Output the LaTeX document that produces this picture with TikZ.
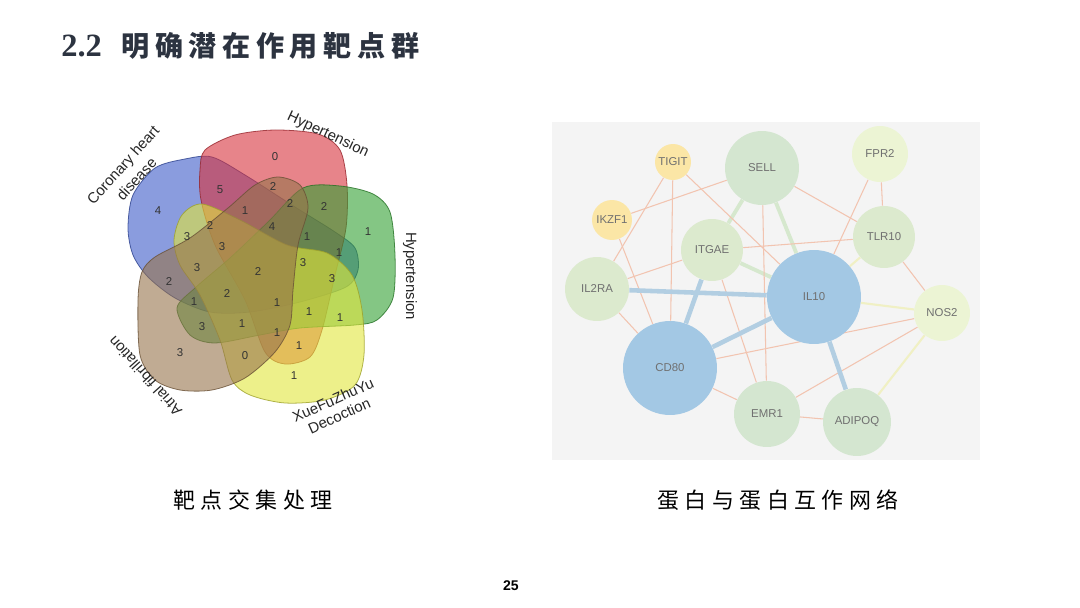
\documentclass[tikz,border=0pt]{standalone}
\usepackage{fontspec}
\setmainfont{Liberation Sans}
\newfontfamily\serifb{Liberation Serif}
\newfontfamily\cjktitel{Noto Sans CJK SC}[LetterSpace=20]
\newfontfamily\cjkcap{Noto Sans CJK SC}[LetterSpace=25]
\usetikzlibrary{positioning}
\definecolor{titel}{RGB}{44,51,64}
\definecolor{vblau}{RGB}{60,90,200}
\definecolor{vrot}{RGB}{215,50,60}
\definecolor{vgruen}{RGB}{50,160,50}
\definecolor{vgelb}{RGB}{225,230,60}
\definecolor{vbraun}{RGB}{150,115,75}
\definecolor{panel}{RGB}{244,244,244}
\definecolor{lachs}{RGB}{242,196,176}
\definecolor{eisblau}{RGB}{178,206,226}
\definecolor{blassgruen}{RGB}{214,232,206}
\definecolor{blassgelb}{RGB}{240,240,196}
\definecolor{pblau}{RGB}{163,200,228}
\definecolor{pgruen}{RGB}{212,230,208}
\definecolor{plind}{RGB}{220,234,206}
\definecolor{phell}{RGB}{236,244,212}
\definecolor{pgelb}{RGB}{251,230,166}
\definecolor{ptext}{RGB}{112,112,112}
\pgfdeclarelayer{hinten}
\pgfdeclarelayer{kanten}
\pgfsetlayers{hinten,kanten,main}
\tikzset{
  % Venn-Mengen
  menge/.style={fill=#1, draw=#1!70!black, fill opacity=0.6, draw opacity=0.8,
    line width=0.45pt},
  zahl/.style={font=\fontsize{6.5}{7}\selectfont, text=black!80},
  mlabel/.style={font=\fontsize{8.5}{10}\selectfont, text=black!85, inner sep=1pt},
  % Netzwerk
  prot/.style={circle, inner sep=0pt, minimum size=#1*0.04cm,
    font=\fontsize{6.5}{7}\selectfont, text=ptext},
  duenn/.style={draw=lachs, line width=0.6pt},
  stark/.style={draw=eisblau, line width=2.6pt},
  blass/.style={draw=blassgruen, line width=2.2pt},
  gelblich/.style={draw=blassgelb, line width=1.2pt},
  % Beschriftung
  caption/.style={font=\cjkcap\fontsize{12.5}{14}\selectfont, text=black},
}

\begin{document}
\begin{tikzpicture}[x=0.02cm, y=-0.02cm]
  \useasboundingbox (0,0) rectangle (1080,608);
  % Titel
  \node[anchor=west, inner sep=0pt, text=titel] (titel) at (61,46)
    {{\serifb\bfseries\fontsize{18.5}{19}\selectfont 2.2}\hspace{11pt}{\cjktitel\bfseries\fontsize{16}{18}\selectfont 明确潜在作用靶点群}};

  % Venn-Diagramm, fünf Mengen
  \path[menge=vblau] plot[smooth cycle] coordinates {(128,228) (133,195) (155,168) (185,159)
    (212,157) (245,175) (295,207) (335,232) (355,248) (358,270) (346,287) (300,302)
    (250,312) (210,312) (175,298) (148,277) (133,255)};
  \path[menge=vrot] plot[smooth cycle] coordinates {(205,150) (235,135) (275,130) (318,134)
    (340,150) (347,185) (346,228) (335,275) (322,330) (310,357) (285,364) (265,352)
    (245,300) (215,245) (201,200) (200,170)};
  \path[menge=vgruen] plot[smooth cycle] coordinates {(303,188) (340,186) (373,194) (390,212)
    (395,255) (393,298) (377,320) (355,325) (300,328) (260,335) (215,343) (190,335)
    (177,308) (195,288) (230,258) (268,222)};
  \path[menge=vgelb] plot[smooth cycle] coordinates {(174,240) (182,215) (202,204) (240,220)
    (287,245) (327,253) (352,275) (362,310) (364,355) (355,385) (325,400) (285,403)
    (250,395) (232,380) (220,340) (200,295) (180,265)};
  \path[menge=vbraun] plot[smooth cycle] coordinates {(138,300) (142,272) (155,257) (190,238)
    (228,208) (255,185) (278,177) (300,185) (308,208) (298,245) (293,290) (290,325)
    (275,352) (245,378) (212,390) (180,390) (155,380) (140,355)};

  % Schnittmengen
  \foreach \x/\y/\n [count=\i] in {275/157/0, 220/190/5, 158/211/4, 273/187/2, 245/211/1,
      290/204/2, 324/207/2, 368/232/1, 210/226/2, 187/237/3, 222/247/3, 272/227/4,
      307/237/1, 339/253/1, 303/263/3, 332/279/3, 169/282/2, 197/268/3, 258/272/2,
      227/294/2, 194/302/1, 277/303/1, 309/312/1, 340/318/1, 202/327/3, 242/324/1,
      277/333/1, 180/353/3, 245/356/0, 299/346/1, 294/376/1}
    \node[zahl] (z\i) at (\x,\y) {\n};

  % Mengennamen
  \node[mlabel, rotate=48] (khk) at (124,166) {Coronary heart};
  \node[mlabel, rotate=48, below=1pt of khk.south, anchor=north] (khk2) {disease};
  \node[mlabel, rotate=-25] (hyp1) at (328,135) {Hypertension};
  \node[mlabel, rotate=-90] (hyp2) at (410,276) {Hypertension};
  \node[mlabel, rotate=24] (xfzy) at (333,400) {XueFuZhuYu};
  \node[mlabel, rotate=24, below=1pt of xfzy.south, anchor=north] (xfzy2) {Decoction};
  \node[mlabel, rotate=132] (vhf) at (145,376) {Atrial fibrillation};

  % PPI-Netzwerk
  \begin{pgfonlayer}{hinten}
    \fill[panel] (552,122) rectangle (980,460);
  \end{pgfonlayer}
  \node[prot=18, fill=pgelb] (tigit) at (673,162) {TIGIT};
  \node[prot=37, fill=pgruen] (sell) at (762,168) {SELL};
  \node[prot=28, fill=phell] (fpr2) at (880,154) {FPR2};
  \node[prot=20, fill=pgelb] (ikzf1) at (612,220) {IKZF1};
  \node[prot=31, fill=plind] (itgae) at (712,250) {ITGAE};
  \node[prot=31, fill=plind] (tlr10) at (884,237) {TLR10};
  \node[prot=32, fill=plind] (il2ra) at (597,289) {IL2RA};
  \node[prot=47, fill=pblau] (il10) at (814,297) {IL10};
  \node[prot=28, fill=phell] (nos2) at (942,313) {NOS2};
  \node[prot=47, fill=pblau] (cd80) at (670,368) {CD80};
  \node[prot=33, fill=pgruen] (emr1) at (767,414) {EMR1};
  \node[prot=34, fill=pgruen] (adipoq) at (857,422) {ADIPOQ};

  \begin{pgfonlayer}{kanten}
    % schwache Kanten
    \draw[blass] (sell) -- (il10);
    \draw[blass] (sell) -- (itgae);
    \draw[blass] (itgae) -- (il10);
    \draw[gelblich] (il10) -- (nos2);
    \draw[gelblich] (adipoq) -- (nos2);
    \draw[gelblich] (tlr10) -- (il10);
    % normale Kanten
    \draw[duenn] (tigit) -- (il2ra);
    \draw[duenn] (tigit) -- (cd80);
    \draw[duenn] (tigit) -- (il10);
    \draw[duenn] (ikzf1) -- (sell);
    \draw[duenn] (ikzf1) -- (cd80);
    \draw[duenn] (il2ra) -- (itgae);
    \draw[duenn] (il2ra) -- (cd80);
    \draw[duenn] (itgae) -- (tlr10);
    \draw[duenn] (itgae) -- (emr1);
    \draw[duenn] (sell) -- (tlr10);
    \draw[duenn] (sell) -- (emr1);
    \draw[duenn] (fpr2) -- (tlr10);
    \draw[duenn] (fpr2) -- (il10);
    \draw[duenn] (tlr10) -- (nos2);
    \draw[duenn] (cd80) -- (nos2);
    \draw[duenn] (cd80) -- (emr1);
    \draw[duenn] (emr1) -- (nos2);
    \draw[duenn] (emr1) -- (adipoq);
    % starke Kanten
    \draw[stark] (il2ra) -- (il10);
    \draw[stark] (cd80) -- (il10);
    \draw[stark] (cd80) -- (itgae);
    \draw[stark] (il10) -- (adipoq);
  \end{pgfonlayer}

  % Bildunterschriften
  \node[caption] (cap1) at (253,500) {靶点交集处理};
  \node[caption] (cap2) at (778,500) {蛋白与蛋白互作网络};
  \node[font=\bfseries\fontsize{8}{9}\selectfont] (seite) at (511,586) {25};
\end{tikzpicture}
\end{document}
